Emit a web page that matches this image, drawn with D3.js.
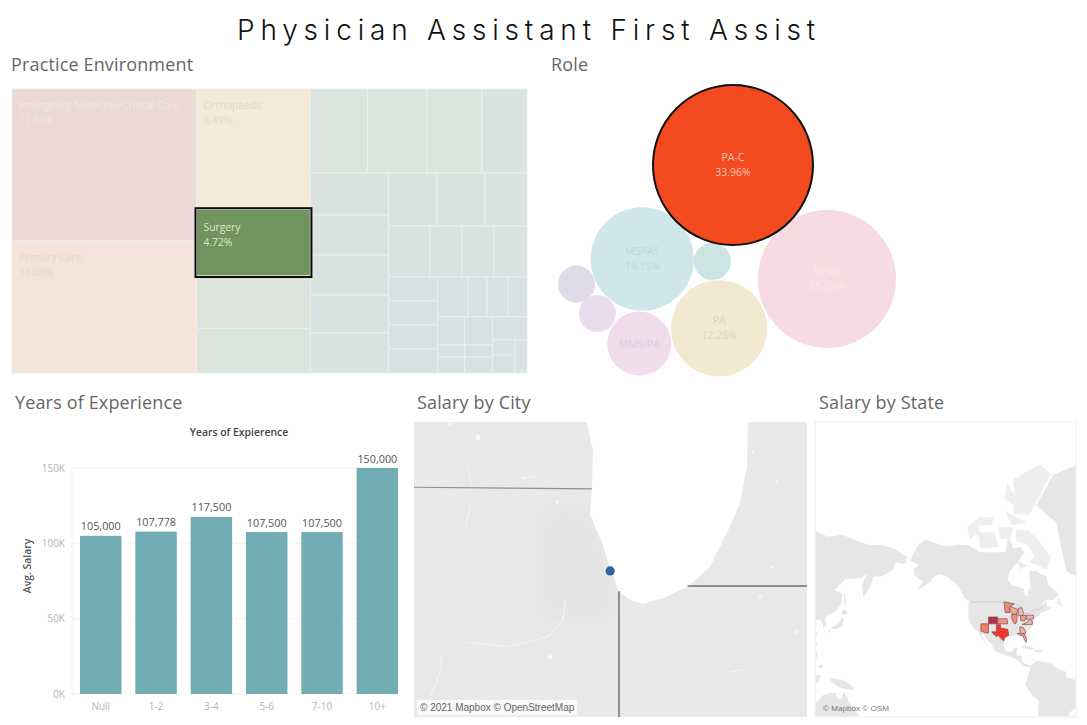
<!DOCTYPE html>
<html><head><meta charset="utf-8">
<script src="https://cdn.jsdelivr.net/npm/d3@7"></script>
<style>html,body{margin:0;background:#fff}svg{display:block}text{font-family:"Open Sans",sans-serif}</style>
</head><body><svg id="c" width="1087" height="725"></svg>
<script>
// ---------- Practice environment (share of respondents, %)
const col1Names = ["Emergency Medicine/Critical Care", "Primary Care"];
const col1Shares = [17.40, 15.09];
const col2Names = ["Orthopaedic", "Surgery", "", ""];
const col2Shares = [8.49, 4.72, 3.70, 3.15];
const topRowShares = [2.98, 3.08, 2.87, 2.35];
const leftStackShares = [2.04, 1.94, 1.94, 1.84, 1.94];
const upperRowShares = [1.58, 1.58, 1.38];
const lowerRowShares = [1.30, 1.01, 1.01, 1.05];
const bottomLeftShares = [0.73, 0.73, 0.73, 0.73];
const bottomTopShares = [0.75, 0.47, 0.52, 0.47];
const tinyAShares = [0.47, 0.20, 0.27];
const tinyBShares = [0.49, 0.21, 0.28];
const tinyCShares = [0.49];
const tinyDShares = [0.21, 0.25];
const tinyEShares = [0.25];
const practiceColors = ["#edd9d7", "#f4e3d8", "#f3ebd8", "#71945f"];
const selectedPractice = "Surgery";

// ---------- Role
const roleNames = ["PA-C", "MSPAS", "Other A", "PA", "MPAS", "MMS-PA", "Other B", "Other C"];
const roleShares = [33.96, 14.15, 1.82, 12.26, 25.28, 5.43, 1.82, 1.82];
const roleColors = ["#f44a1f", "#cfe6ea", "#cde5e2", "#f3e8d2", "#f6dbe2", "#f1dcea", "#e9dcef", "#dfdbeb"];
const roleTextColors = ["#f7c7b5", "#c0d8dd", "#cde5e2", "#e0d5bc", "#fae8ec", "#e2cddc", "#e9dcef", "#dfdbeb"];
const roleLabelled = ["PA-C", "MSPAS", "PA", "MPAS"];
// each circle rests against two circles already placed, with the small gaps seen between them
const roleTouches = [null, null, ["MSPAS","PA-C"], ["MSPAS","Other A"], ["PA","PA-C"], ["MSPAS","PA"], ["MSPAS","MMS-PA"], ["MSPAS","Other B"]];
const roleGaps = [null, null, [0,0], [3.8,0.7], [1.5,-1.3], [1,1.2], [0.5,1], [0.3,-0.8]];

// ---------- Years of experience
const yearBands = ["Null", "1-2", "3-4", "5-6", "7-10", "10+"];
const avgSalary = [105000, 107778, 117500, 107500, 107500, 150000];
const salaryTicks = [0, 50000, 100000, 150000];

// ---------- Salary by city basemap [lon, lat]
const lakeMichigan = [[-87.857,43.2],[-87.857,42.995],[-87.806,42.813],[-87.795,42.79],[-87.806,42.50],[-87.826,42.298],[-87.703,42.086],[-87.622,41.904],[-87.54,41.73],[-87.418,41.654],[-87.285,41.624],[-87.081,41.669],[-86.836,41.752],[-86.601,41.904],[-86.428,42.162],[-86.295,42.389],[-86.224,42.662],[-86.214,42.995],[-86.214,43.2]];
const chicagoArea = [[-88.336,42.374],[-87.826,42.336],[-87.52,41.69],[-87.62,41.465],[-88.336,41.50]];
const cityBorders = [
  [[-90,42.51],[-87.806,42.495]],
  [[-87.53,41.72],[-87.53,40.6]],
  [[-86.83,41.76],[-85.5,41.76]]
];
const cityBorderWidths = [1.2, 2, 2];
const cityRoads = [
  [[-88.081,41.654],[-88.101,41.502],[-88.254,41.374],[-88.642,41.298],[-89.081,41.328]],
  [[-89.357,41.252],[-89.336,41.146],[-89.459,40.896]],
  [[-89.071,42.66],[-89.03,42.51]],
  [[-89.05,42.358],[-89.10,42.207]],
  [[-88.51,42.578],[-88.40,42.59]],
  [[-86.4,41.1],[-86.25,41.12]]
];
const cityPonds = [[-88.969,42.881],[-88.51,42.578],[-88.163,42.396],[-88.234,41.222],[-85.714,41.411],[-86.091,41.677],[-85.918,42.548],[-86.163,42.775],[-85.969,41.904],[-89.254,42.98]];
const cityPondSizes = [2.6,1.6,1.8,2.6,2,2,1.6,1.8,1.6,1.6];
const cityLon = [-87.62], cityLat = [41.875];

// ---------- Salary by state basemap [lon, lat]
const landShapes = [
 [[-168,65.5],[-165,68],[-162,70],[-156,71.3],[-148,70.3],[-141,69.6],[-130,70],[-125,70],[-115,68],[-108,68],[-96,68],[-94,72],[-90,69],[-85,69.5],[-82,68],[-87,65],[-93,62],[-94.5,59],[-92.5,57],[-87,56],[-82,55],[-82,52.5],[-79.5,51.5],[-79,54.5],[-77,56],[-78,59],[-78,62.5],[-73,62],[-70,61],[-65,60],[-64,57],[-60,55],[-56,52.5],[-60,50],[-66,50],[-70,47],[-65,49],[-65,47],[-61,46],[-66,44],[-70,43.5],[-71,41.5],[-74,40.5],[-75.5,37.5],[-76,35],[-81,31.5],[-80.2,27],[-80.5,25],[-82,27],[-83,29.5],[-85,29.7],[-89,30],[-90,29],[-94,29.5],[-97,27.5],[-97.5,22],[-95,18.5],[-91,18.5],[-90.5,21],[-87,21.5],[-88,16],[-84,15.5],[-83.5,11],[-80,9],[-77.5,8.5],[-78,7.5],[-81,7.5],[-85,10],[-87.5,13],[-92,14.5],[-96,16],[-102,18],[-105.5,20],[-106,23],[-110,27],[-113,31],[-114.5,30],[-110,23],[-112,25],[-115,29],[-117,32.5],[-120.5,34.5],[-122.5,37.5],[-124.3,40.5],[-124,46],[-124.5,48.4],[-123,49],[-127,51],[-130,54.5],[-133,57],[-137,58.5],[-140,60],[-146,61],[-150,60],[-153,58],[-158,56],[-163,54.7],[-158,58],[-162,59],[-165,61],[-165,63],[-161,64]],
 [[-80,73.5],[-72,71.5],[-67,69],[-62,66.5],[-65,62.5],[-72,64],[-78,65],[-74,67],[-80,70],[-88,71],[-88,73.5]],
 [[-117,73],[-105,73],[-101,69.5],[-115,69]],
 [[-125,74],[-116,76],[-116,73],[-123,71.5]],
 [[-90,76.5],[-78,76.5],[-62,82],[-70,83],[-90,81.5]],
 [[-96,77],[-80,75],[-92,74.5]],
 [[-117,76],[-105,76],[-107,74.5],[-115,74.5]],
 [[-95,81],[-86,78.5],[-90,78],[-97,79]],
 [[-102,74],[-90,74],[-93,71.5],[-100,71.5]],
 [[-87,65.5],[-80,64],[-85,62.5]],
 [[-59,48],[-56,51.5],[-53,47]],
 [[-73,78],[-60,82],[-30,83.5],[-18,80],[-20,72],[-32,68],[-43,60],[-50,62],[-54,69],[-58,75]],
 [[-77.5,8.5],[-72,12],[-68,11],[-62,10.5],[-57,6],[-51,4],[-50,0],[-44,-2.5],[-37,-5],[-35,-8],[-39,-15],[-41,-22],[-48,-26],[-48.5,-32],[-72,-32],[-71,-18],[-76,-14],[-81,-6],[-80,-2],[-79,2],[-77.5,7]],
 [[-85,22],[-80,23],[-74,20.2],[-78,20]],
 [[-74,19.8],[-69,19.8],[-68.5,18.3],[-74,18.2]],
 [[100,73],[115,74],[130,72],[140,72.5],[160,70],[170,70],[180,69],[190,66.5],[188,64.5],[181,65],[179,62.5],[170,60],[164,60],[162,56],[156.5,51],[155.5,57],[160,61],[155,59.5],[143,59],[135,54.5],[141,53],[140,48],[135,43.5],[130,42.5],[127.5,39.5],[129,36],[126.5,34.5],[126,37],[124.5,39.5],[121,39],[118,38.5],[122,37],[119.5,34.5],[122,31],[120,26],[116,22.5],[110,21],[108,21.5],[106,19],[109,13],[105,9],[100,13],[100,30]],
 [[142,54],[143.5,50],[143,46],[142,49]],
 [[140,43],[141.5,45.5],[145,43.5],[143,42]],
 [[131,34],[136,36],[139,38],[140,41],[142,39.5],[140.5,35.5],[136,33.7]],
 [[130,33.5],[132,33.5],[131,31]],
 [[120,23],[121,25],[122,24.5],[121,22]],
 [[120,18.5],[122,18.5],[122,14],[124,12.5],[120.5,14]],
 [[122,8],[126,9.5],[126,6.5],[123,7]],
 [[109,1],[116,7],[119,5],[118,1],[116,-4],[110,-3]],
 [[120,1],[125,1],[122,-5],[120,-5]],
 [[131,-1],[141,-2.5],[147,-6],[150,-10.5],[143,-9],[138,-8],[133,-4]],
 [[113,-22],[122,-18],[126,-14],[131,-12],[136,-12],[136,-15],[140,-17.5],[142,-11],[146,-19],[150,-23],[153.5,-28],[153,-36],[115,-36]]
];
const usCanadaBorder = [[-123,49],[-95,49],[-89,48],[-84,46.5],[-82.5,43],[-79,43],[-75,45],[-71,45],[-68,47]];
const stateNames = ["Arizona","Colorado","Kansas","Texas","Minnesota","Wisconsin","Illinois","Michigan","Ohio","Pennsylvania","Virginia","Georgia","Florida"];
const stateSalary = [118000,150000,112000,132000,116000,100000,113000,92000,108000,96000,94000,96000,104000];
const stateShapes = [
 [[-114.7,37],[-109,37],[-109,31.3],[-111,31.3],[-114.8,32.5]],
 [[-109,41],[-102,41],[-102,37],[-109,37]],
 [[-102,40],[-95,40],[-94.6,37],[-102,37]],
 [[-106.6,32],[-103,32],[-103,36.5],[-100,36.5],[-100,34.5],[-94.5,33.6],[-93.7,29.8],[-97,28],[-97.3,26],[-99.5,27.5],[-101.5,29.7],[-103,29],[-104.7,30.2]],
 [[-97.2,49],[-89.5,48],[-92.5,46.5],[-92.8,43.5],[-96.5,43.5]],
 [[-92.8,46.7],[-88,45.5],[-87,45],[-87.8,42.5],[-90.7,42.5],[-92.8,44.5]],
 [[-91.5,42.5],[-87.6,42.5],[-87.5,39],[-88.5,37],[-89.5,37],[-91.5,40]],
 [[-86.5,45.8],[-84,46],[-83,44],[-82.5,43],[-83.5,41.7],[-86.8,41.7]],
 [[-84.8,41.7],[-80.5,42],[-80.5,40.5],[-82,38.6],[-84.8,39]],
 [[-80.5,42],[-75,42],[-75,40],[-80.5,39.7]],
 [[-83.5,36.6],[-76,36.6],[-76,39],[-78,39.3],[-80,38]],
 [[-85.5,35],[-83,35],[-81,32],[-81.5,30.7],[-85,30.8]],
 [[-87.5,31],[-85,31],[-82,30.7],[-80.2,27],[-80.5,25],[-82,27],[-83,29.5],[-85,29.7]]
];

const svg = d3.select("#c");
const titleText = "Physician Assistant First Assist";
svg.append("text").attr("x",237).attr("y",40).text(titleText)
  .style("font-family","Inter, sans-serif").style("font-weight",300).style("font-size","28px").style("letter-spacing","5.8px").attr("fill","#111");
const panelTitles = [["Practice Environment",11,71],["Role",551,71],["Years of Experience",15,409],["Salary by City",417,409],["Salary by State",819,409]];
svg.selectAll(".pt").data(panelTitles).join("text").attr("class","pt")
  .attr("x",d=>d[1]).attr("y",d=>d[2]).text(d=>d[0]).attr("fill","#666")
  .style("font-size","18px").style("letter-spacing","0.15px").style("font-weight",400);

// ---------- Treemap
const leaf=(a,prefix)=>a.map((v,i)=>({name:prefix+i,value:v}));
const named=(names,vals)=>vals.map((v,i)=>({name:names[i]||("c2"+i),label:!!names[i],value:v}));
const practiceTree={dir:"h",children:[
 {dir:"v",children:named(col1Names,col1Shares)},
 {dir:"v",children:named(col2Names,col2Shares)},
 {dir:"v",children:[
   {dir:"h",children:leaf(topRowShares,"t")},
   {dir:"h",children:[
     {dir:"v",children:leaf(leftStackShares,"l")},
     {dir:"v",children:[
       {dir:"h",children:leaf(upperRowShares,"u")},
       {dir:"h",children:leaf(lowerRowShares,"w")},
       {dir:"h",children:[
         {dir:"v",children:leaf(bottomLeftShares,"b")},
         {dir:"v",children:[
           {dir:"h",children:leaf(bottomTopShares,"p")},
           {dir:"h",children:[
             {dir:"v",children:leaf(tinyAShares,"a")},
             {dir:"v",children:leaf(tinyBShares,"e")},
             {dir:"v",children:[
               ...leaf(tinyCShares,"f"),
               {dir:"h",children:[{dir:"v",children:leaf(tinyDShares,"g")},{dir:"v",children:leaf(tinyEShares,"k")}]}
             ]}
           ]}
         ]}
       ]}
     ]}
   ]}
 ]}
]};
const root=d3.hierarchy(practiceTree).sum(d=>d.value||0);
d3.treemap().size([515,284]).tile((n,x0,y0,x1,y1)=>(n.data.dir==="h"?d3.treemapDice:d3.treemapSlice)(n,x0,y0,x1,y1))(root);
const restColor=d3.scaleLinear().domain([0.2,3.1]).range(["#d7e2e4","#dce4de"]);
const gT=svg.append("g").attr("transform","translate(12,89)");
const leaves=root.leaves();
const colorOf=d=>{
  if(d.data.name===col1Names[0])return practiceColors[0];
  if(d.data.name===col1Names[1])return practiceColors[1];
  if(d.data.name==="Orthopaedic")return practiceColors[2];
  if(d.data.name==="Surgery")return practiceColors[3];
  return restColor(d.data.value);};
gT.selectAll("rect.cell").data(leaves).join("rect").attr("class","cell")
  .attr("x",d=>d.x0).attr("y",d=>d.y0).attr("width",d=>d.x1-d.x0).attr("height",d=>d.y1-d.y0)
  .attr("fill",colorOf).attr("stroke","#e9efed").attr("stroke-width",1);
const sel=leaves.find(d=>d.data.name===selectedPractice);
gT.append("rect").attr("x",sel.x0-1).attr("y",sel.y0-1).attr("width",sel.x1-sel.x0+2).attr("height",sel.y1-sel.y0+2)
  .attr("fill","none").attr("stroke","#0a0a0a").attr("stroke-width",2);
const labelColor={"Surgery":"#dcebc8","Orthopaedic":"#e3dac4","Primary Care":"#e8d7c9"};
const labelled=leaves.filter(d=>d.data.label);
const tg=gT.selectAll("g.lab").data(labelled).join("g").attr("class","lab")
  .attr("transform",d=>`translate(${d.x0+7},${d.y0+(d.data.name==="Surgery"?22:20)})`)
  .attr("fill",d=>labelColor[d.data.name]||"#f3e7e5").style("font-size","10.3px");
tg.append("text").text(d=>d.data.name);
tg.append("text").attr("y",15).text(d=>d.data.value.toFixed(2)+"%");

// ---------- Bubbles
const r=d3.scaleSqrt().domain([0,33.96]).range([0,80]);
const bub=roleNames.map((n,i)=>({name:n,share:roleShares[i],r:r(roleShares[i]),color:roleColors[i],text:roleTextColors[i]}));
const byName=Object.fromEntries(bub.map(b=>[b.name,b]));
function rest(c,a,b,g){const da=a.r+c.r+g[0],db=b.r+c.r+g[1],dx=b.x-a.x,dy=b.y-a.y,d=Math.hypot(dx,dy);
  const t=(d*d+da*da-db*db)/(2*d),h=Math.sqrt(Math.max(0,da*da-t*t)),ux=dx/d,uy=dy/d;
  c.x=a.x+t*ux-h*uy;c.y=a.y+t*uy+h*ux;}
bub[0].x=0;bub[0].y=0;
const seed=(134*Math.PI/180),sd=bub[0].r+bub[1].r-1;
bub[1].x=sd*Math.cos(seed);bub[1].y=sd*Math.sin(seed);
roleTouches.forEach((t,i)=>{if(t)rest(bub[i],byName[t[0]],byName[t[1]],roleGaps[i]);});
const gB=svg.append("g").attr("transform","translate(733,165)");
const bOrder=bub.slice().reverse();
gB.selectAll("circle").data(bOrder).join("circle").attr("cx",d=>d.x).attr("cy",d=>d.y).attr("r",d=>d.r)
  .attr("fill",d=>d.color).attr("stroke",d=>d.name==="PA-C"?"#111":"none").attr("stroke-width",2);
const bl=gB.selectAll("g.bl").data(bub.filter(b=>roleLabelled.includes(b.name))).join("g").attr("class","bl")
  .attr("transform",d=>`translate(${d.x},${d.y})`).attr("fill",d=>d.text).attr("text-anchor","middle").style("font-size","10.5px");
bl.append("text").attr("y",-4).text(d=>d.name);
bl.append("text").attr("y",11).text(d=>d.share.toFixed(2)+"%");
const ml=byName["MMS-PA"];
gB.append("text").attr("x",ml.x).attr("y",ml.y+4).attr("text-anchor","middle").attr("fill",ml.text).style("font-size","10.5px").text(ml.name);

// ---------- Bars
const x=d3.scaleBand().domain(yearBands).range([73.1,405]).paddingInner(0.25).paddingOuter(0.125);
const y=d3.scaleLinear().domain([0,150000]).range([694,468]);
svg.append("g").selectAll("line").data(salaryTicks).join("line")
  .attr("x1",72).attr("x2",398).attr("y1",d=>y(d)).attr("y2",d=>y(d)).attr("stroke","#f3f3f3");
svg.append("line").attr("x1",72).attr("x2",72).attr("y1",468).attr("y2",694).attr("stroke","#f3f3f3");
const yA=svg.append("g").attr("transform","translate(68,0)").call(d3.axisLeft(y).tickValues(salaryTicks).tickSize(0).tickPadding(3).tickFormat(d=>d/1000+"K"));
const xA=svg.append("g").attr("transform","translate(0,697)").call(d3.axisBottom(x).tickSize(0).tickPadding(6));
[yA,xA].forEach(a=>{a.select(".domain").remove();a.selectAll("text").attr("fill","#b4b4b4").style("font-size","10px").style("font-family",'"Open Sans",sans-serif');});
svg.append("g").selectAll("rect").data(avgSalary).join("rect")
  .attr("x",(d,i)=>x(yearBands[i])).attr("width",x.bandwidth()).attr("y",d=>y(d)).attr("height",d=>y(0)-y(d)).attr("fill","#72adb3");
svg.append("g").selectAll("text").data(avgSalary).join("text")
  .attr("x",(d,i)=>x(yearBands[i])+x.bandwidth()/2).attr("y",d=>y(d)-5.5).attr("text-anchor","middle")
  .attr("fill","#555").style("font-size","10.8px").text(d3.format(","));
svg.append("text").attr("x",239).attr("y",436).attr("text-anchor","middle").attr("fill","#444").style("font-size","10.4px").style("font-weight",600).text("Years of Expierence");
svg.append("text").attr("transform","translate(31,566) rotate(-90)").attr("text-anchor","middle").attr("fill","#555").style("font-size","10.4px").style("font-weight",600).text("Avg. Salary");

// ---------- City map
const defs=svg.append("defs");
defs.append("clipPath").attr("id","cityClip").append("rect").attr("x",414).attr("y",422).attr("width",393).attr("height",295);
defs.append("clipPath").attr("id","stateClip").append("rect").attr("x",815).attr("y",422).attr("width",261).attr("height",295);
defs.append("filter").attr("id","soft").attr("x","-30%").attr("y","-30%").attr("width","160%").attr("height","160%").append("feGaussianBlur").attr("stdDeviation",9);
const pCity=d3.geoMercator().scale(5615).center([-87.53,41.76]).translate([619,586]);
const cityLine=d3.line().x(d=>pCity(d)[0]).y(d=>pCity(d)[1]);
const gC=svg.append("g").attr("clip-path","url(#cityClip)");
gC.append("rect").attr("x",414).attr("y",422).attr("width",393).attr("height",295).attr("fill","#e9e9eb");
gC.append("path").attr("d",cityLine(chicagoArea)+"Z").attr("fill","#e4e4e6").attr("filter","url(#soft)");
gC.selectAll("path.rd").data(cityRoads).join("path").attr("class","rd").attr("d",cityLine).attr("fill","none").attr("stroke","#f4f4f5").attr("stroke-width",1.2);
gC.selectAll("circle.pond").data(cityPonds).join("circle").attr("class","pond").attr("cx",d=>pCity(d)[0]).attr("cy",d=>pCity(d)[1]).attr("r",(d,i)=>cityPondSizes[i]).attr("fill","#f6f6f7");
gC.append("path").attr("d",cityLine(lakeMichigan)+"Z").attr("fill","#fff");
gC.selectAll("path.bd").data(cityBorders).join("path").attr("class","bd").attr("d",cityLine).attr("fill","none").attr("stroke","#8f8f90").attr("stroke-width",(d,i)=>cityBorderWidths[i]);
gC.append("circle").attr("cx",pCity([cityLon[0],cityLat[0]])[0]).attr("cy",pCity([cityLon[0],cityLat[0]])[1]).attr("r",4.6).attr("fill","#2f62a3");
gC.append("rect").attr("x",417).attr("y",700).attr("width",160).attr("height",15).attr("fill","#fff").attr("opacity",.7);
gC.append("text").attr("x",420).attr("y",711).attr("fill","#666").style("font-family",'"Liberation Sans",sans-serif').style("font-size","10px").text("© 2021 Mapbox © OpenStreetMap");

// ---------- State map
const pState=d3.geoMercator().rotate([141.4,0]).scale(76).translate([945.5,676.7]);
const stLine=d3.line().x(d=>pState(d)[0]).y(d=>pState(d)[1]);
const gS=svg.append("g").attr("clip-path","url(#stateClip)");
gS.selectAll("path.land").data(landShapes).join("path").attr("class","land").attr("d",d=>stLine(d)+"Z")
  .attr("fill",(d,i)=>i>=1&&i<=10?"#eeeeef":"#e6e6e7");
gS.append("path").attr("d",stLine(usCanadaBorder)).attr("fill","none").attr("stroke","#c4c4c6").attr("stroke-width",.7);
const salColor=d3.scaleLinear().domain([90000,115000,132000,150000]).range(["#e3c0bb","#ec8f78","#f0392b","#b0304a"]);
gS.selectAll("path.state").data(stateShapes).join("path").attr("class","state").attr("d",d=>stLine(d)+"Z")
  .attr("fill",(d,i)=>salColor(stateSalary[i])).attr("stroke","#8a4a50").attr("stroke-width",.7);
svg.append("rect").attr("x",815).attr("y",422).attr("width",261).attr("height",295).attr("fill","none").attr("stroke","#f3f2f6").attr("stroke-width",1.5);
svg.append("text").attr("x",823).attr("y",711).attr("fill","#777").style("font-family",'"Liberation Sans",sans-serif').style("font-size","8.1px").text("© Mapbox © OSM");
</script></body></html>
